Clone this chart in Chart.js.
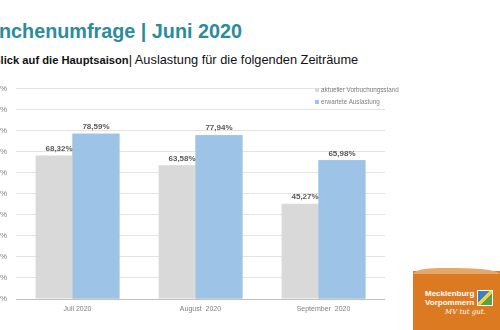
<!DOCTYPE html>
<html><head><meta charset="utf-8">
<script src="https://cdn.jsdelivr.net/npm/chart.js@4/dist/chart.umd.min.js"></script>
<style>
html,body{margin:0;padding:0;background:#fff;width:500px;height:330px;overflow:hidden;position:relative;font-family:"Liberation Sans",Arial,sans-serif;}
#title{position:absolute;left:-34px;top:20px;font-weight:bold;font-size:19.8px;color:#2b8c9b;white-space:nowrap;}
#sub{position:absolute;left:-7.5px;top:52px;font-size:12.8px;color:#111;white-space:nowrap;}
#sub b{font-weight:bold;font-size:11.2px;}
#wrap{position:absolute;left:-24px;top:75px;width:409px;height:255px;}
#legend{position:absolute;left:315px;top:84px;font-size:6.3px;color:#7f7f7f;line-height:12px;}
#legend span.sq{display:inline-block;width:4px;height:4px;margin-right:2px;vertical-align:middle;}
#logo{position:absolute;left:413px;top:271px;width:87px;height:59px;background:#dc7a22;}
#logo .wave{position:absolute;left:0;top:-3px;width:87px;height:6px;background:#e6a868;border-radius:30% 50% 20% 60%/100% 100% 0 0;}
#logo .t{position:absolute;left:12px;top:18px;color:#fff;font-weight:bold;font-size:8px;line-height:9px;}
#logo .s{position:absolute;left:32px;top:37px;color:#fff;font-style:italic;font-size:7px;font-family:"DejaVu Serif",serif;}
#logo .ic{position:absolute;left:64px;top:19px;width:14px;height:14px;background:linear-gradient(135deg,#3d7fc1 0 40%,#f2d23c 40% 60%,#5aa04a 60%);border:1px solid #fff;}
</style></head>
<body>
<div id="title">Branchenumfrage | Juni 2020</div>
<div id="sub"><b>Blick auf die Hauptsaison</b>| Auslastung für die folgenden Zeiträume</div>
<div id="wrap"><canvas id="c"></canvas></div>
<div id="legend">
<div><span class="sq" style="background:#d9d9d9"></span>aktueller Vorbuchungsstand</div>
<div><span class="sq" style="background:#9dc3e6"></span>erwartete Auslastung</div>
</div>
<div id="logo"><div class="wave"></div><div class="t">Mecklenburg<br>Vorpommern</div><div class="ic"></div><div class="s">MV tut gut.</div></div>
<script>
const categories = ["Juli 2020", "August  2020", "September  2020"];
const seriesNames = ["aktueller Vorbuchungsstand", "erwartete Auslastung"];
const vorbuchung = [68.32, 63.58, 45.27];
const erwartet = [78.59, 77.94, 65.98];
const yTicks = [0,10,20,30,40,50,60,70,80,90,100];

const fmt = v => v.toFixed(2).replace('.', ',') + '%';

const overlapPlugin = {
  id: 'overlap',
  afterDatasetsDraw(chart) {
    const ctx = chart.ctx;
    const meta1 = chart.getDatasetMeta(1);
    ctx.save();
    meta1.controller.draw();
    ctx.restore();
    ctx.save();
    ctx.font = 'bold 8px "Liberation Sans", Arial, sans-serif';
    ctx.fillStyle = '#595959';
    ctx.textAlign = 'center';
    ctx.textBaseline = 'bottom';
    chart.data.datasets.forEach((ds, i) => {
      chart.getDatasetMeta(i).data.forEach((bar, j) => {
        ctx.fillText(fmt(ds.data[j]), bar.x, bar.y - 3);
      });
    });
    ctx.restore();
  }
};

new Chart(document.getElementById('c'), {
  type: 'bar',
  data: {
    labels: categories,
    datasets: [
      { label: seriesNames[0], data: vorbuchung, backgroundColor: '#d9d9d9', categoryPercentage: 0.60, barPercentage: 1.27 },
      { label: seriesNames[1], data: erwartet, backgroundColor: '#9dc3e6', categoryPercentage: 0.60, barPercentage: 1.27 }
    ]
  },
  options: {
    responsive: true,
    maintainAspectRatio: false,
    animation: false,
    layout: { padding: { top: 10, right: 0, bottom: 0, left: 0 } },
    plugins: { legend: { display: false }, tooltip: { enabled: false } },
    scales: {
      x: {
        grid: { display: false, drawTicks: false },
        border: { color: '#bfbfbf', width: 1 },
        ticks: { color: '#7f7f7f', font: { size: 7, family: '"Liberation Sans", Arial, sans-serif' }, padding: 6 },
        afterFit: s => { s.height = 31; }
      },
      y: {
        min: 0, max: 100,
        afterBuildTicks: s => { s.ticks = yTicks.map(v => ({ value: v })); },
        grid: { color: '#e3e3e3', drawTicks: false },
        border: { display: false },
        ticks: { color: '#7f7f7f', font: { size: 8, family: '"Liberation Sans", Arial, sans-serif' }, padding: 9, callback: v => v + '%' },
        afterFit: s => { s.width = 40; }
      }
    }
  },
  plugins: [overlapPlugin]
});
</script>
</body></html>
